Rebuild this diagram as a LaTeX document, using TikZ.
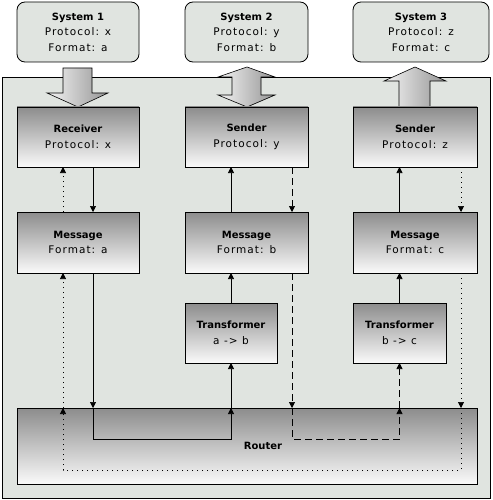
\documentclass[tikz,border=0pt]{standalone}
\usepackage{fontspec}
\setmainfont{DejaVu Sans}[LetterSpace=10]
\newfontfamily\headfont{DejaVu Sans}
\usetikzlibrary{arrows.meta,calc}

\definecolor{panel}{HTML}{E0E4E0}
\newcommand\ttl[1]{{\headfont\bfseries\fontsize{10}{15.5}\selectfont #1}}

\begin{document}
\begin{tikzpicture}[x=1pt,y=-1pt,
  sysbox/.style={draw,line width=0.8pt,rounded corners=8pt,fill=panel,inner sep=0pt,outer sep=0pt,
    minimum height=60pt,align=center,font=\fontsize{10.5}{15.5}\selectfont},
  box/.style={draw,line width=0.8pt,inner sep=0pt,outer sep=0pt,minimum width=122pt,minimum height=60pt,
    align=center,top color=black!45,bottom color=black!2,font=\fontsize{10.5}{15.5}\selectfont},
  blockarrow/.style={draw,line width=0.6pt,left color=black!4,right color=black!42},
  flow/.style={line width=0.7pt,-{Triangle[width=6pt,length=6pt]}},
  dashline/.style={dash pattern=on 7pt off 4pt},
  dotline/.style={dash pattern=on 1pt off 4pt}]
\useasboundingbox (0,0) rectangle (492,500);

\draw [line width=0.8pt,fill=panel] (2,77) rectangle (490,498); % integration panel

% block arrows between the systems and the panel
\draw [blockarrow] (63,68) -- (92,68) -- (92,93) -- (108,93) -- (78,107) -- (47,93) -- (63,93) -- cycle;
\draw [blockarrow] (247,67) -- (275,77) -- (261,77) -- (261,95) -- (275,95) -- (247,107)
                   -- (218,95) -- (232,95) -- (232,77) -- (218,77) -- cycle;
\draw [blockarrow] (415,67) -- (446,81) -- (430,81) -- (430,107) -- (399,107) -- (399,81) -- (384,81) -- cycle;

% systems
\node [sysbox,minimum width=122pt] (sys1) at (78,32)    {\ttl{System 1}\\Protocol: x\\Format: a};
\node [sysbox,minimum width=123pt] (sys2) at (246.5,32) {\ttl{System 2}\\Protocol: y\\Format: b};
\node [sysbox,minimum width=136pt] (sys3) at (421,32)   {\ttl{System 3}\\Protocol: z\\Format: c};

% endpoints
\node [box] (recv)  at (78,137)    {\ttl{Receiver}\\Protocol: x};
\node [box,minimum width=123pt] (sendy) at (246.5,137) {\ttl{Sender}\\Protocol: y};
\node [box,minimum width=124pt] (sendz) at (415,137)   {\ttl{Sender}\\Protocol: z};

% messages
\node [box,minimum height=61pt] (msga) at (78,242.5)    {\ttl{Message}\\Format: a};
\node [box,minimum height=61pt,minimum width=123pt] (msgb) at (246.5,242.5) {\ttl{Message}\\Format: b};
\node [box,minimum height=61pt,minimum width=124pt] (msgc) at (415,242.5)   {\ttl{Message}\\Format: c};

% transformers
\node [box,minimum width=92pt] (trab) at (231,333)   {\ttl{Transformer}\\a -> b};
\node [box,minimum width=93pt] (trbc) at (399.5,333) {\ttl{Transformer}\\b -> c};

% router
\node [box,minimum width=460pt,minimum height=76pt] (router) at (247,446) {};
\node (routertxt) at ($(router.center)+(16,0)$) {\ttl{Router}};

% lanes
\coordinate (lsa) at (93,0);
\coordinate (ldo) at (63,0);
\coordinate (lda) at (292,0);
\coordinate (ldc) at (461,0);

% solid route: x -> a -> b -> y
\draw [flow] (recv.south -| lsa) -- (msga.north -| lsa);
\draw [flow] (msga.south -| lsa) -- (router.north -| lsa);
\draw [flow] (router.north -| lsa) -- ++(0,31) -| (router.north -| trab);
\draw [flow] (router.north -| trab) -- (trab.south);
\draw [flow] (trab.north) -- (msgb.south -| trab);
\draw [flow] (msgb.north -| trab) -- (sendy.south -| trab);

% dashed route: y -> b -> c -> z
\draw [flow,dashline] (sendy.south -| lda) -- (msgb.north -| lda);
\draw [flow,dashline] (msgb.south -| lda) -- (router.north -| lda);
\draw [flow,dashline] (router.north -| lda) -- ++(0,31) -| (router.north -| trbc);
\draw [flow,dashline] (router.north -| trbc) -- (trbc.south);
\draw [flow] (trbc.north) -- (msgc.south -| trbc);
\draw [flow] (msgc.north -| trbc) -- (sendz.south -| trbc);

% dotted route: z -> c -> a -> x
\draw [flow,dotline] (sendz.south -| ldc) -- (msgc.north -| ldc);
\draw [flow,dotline] (msgc.south -| ldc) -- (router.north -| ldc);
\draw [flow,dotline] (router.north -| ldc) -- ++(0,62) -| (router.north -| ldo);
\draw [flow,dotline] (router.north -| ldo) -- (msga.south -| ldo);
\draw [flow,dotline] (msga.north -| ldo) -- (recv.south -| ldo);
\end{tikzpicture}
\end{document}
